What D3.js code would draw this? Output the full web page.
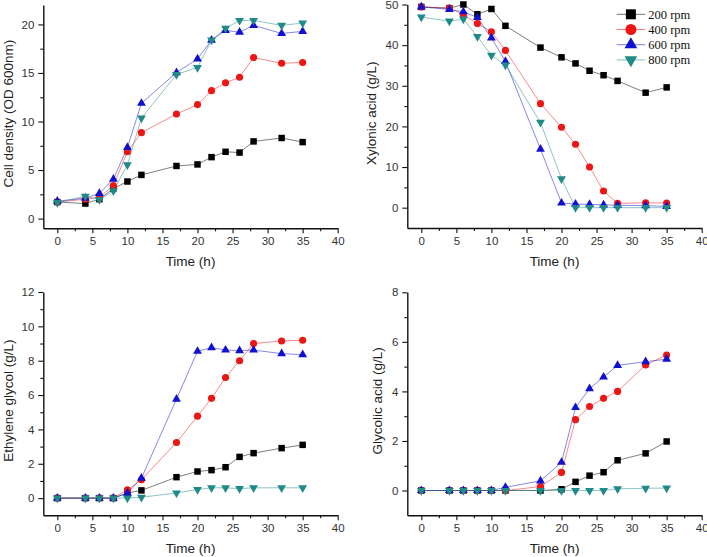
<!DOCTYPE html>
<html>
<head>
<meta charset="utf-8">
<script src="https://cdn.jsdelivr.net/npm/d3@7"></script>
<style>
body { margin: 0; background: #fff; }
svg { display: block; }
</style>
</head>
<body>
<script>

var width = 707;
var height = 557;

// sampling times (h)
var time = [0, 4, 6, 8, 10, 12, 17, 20, 22, 24, 26, 28, 32, 35];
var seriesNames = ["200 rpm", "400 rpm", "600 rpm", "800 rpm"];
var colors = ["#000000", "#ee1515", "#1010d0", "#1f8a88"];

// cell density (OD 600nm)
var od200 = [1.7, 1.55, 2.0, 3.1, 3.82, 4.5, 5.42, 5.58, 6.33, 6.88, 6.8, 7.95, 8.3, 7.88];
var od400 = [1.7, 2.0, 2.2, 3.4, 6.88, 8.85, 10.77, 11.74, 13.18, 13.98, 14.56, 16.59, 16.0, 16.08];
var od600 = [1.8, 2.1, 2.6, 4.06, 7.33, 11.88, 15.04, 16.45, 18.38, 19.38, 19.2, 19.9, 19.07, 19.28];
var od800 = [1.65, 2.3, 1.96, 2.86, 5.54, 10.36, 14.84, 15.56, 18.38, 19.59, 20.41, 20.41, 19.9, 20.14];

// xylonic acid (g/L)
var xa200 = [49.4, 49.1, 50.0, 47.6, 48.9, 44.75, 39.4, 37.0, 35.5, 33.7, 32.6, 31.2, 28.3, 29.6];
var xa400 = [49.4, 49.1, 47.5, 45.3, 43.3, 38.7, 25.6, 19.8, 15.6, 10.0, 4.1, 1.07, 1.2, 1.15];
var xa600 = [49.4, 48.8, 48.2, 46.8, 41.8, 36.0, 14.4, 1.15, 0.9, 0.8, 0.7, 0.6, 0.5, 0.3];
var xa800 = [46.9, 45.9, 46.4, 42.1, 37.5, 35.1, 21.0, 7.1, 0, 0, 0, 0, 0, 0];

// ethylene glycol (g/L)
var eg200 = [0, 0, 0, 0, 0.3, 0.45, 1.22, 1.55, 1.63, 1.8, 2.4, 2.62, 2.91, 3.1];
var eg400 = [0, 0, 0, 0, 0.48, 1.07, 3.24, 4.77, 5.81, 7.02, 8.0, 9.0, 9.15, 9.19];
var eg600 = [0, 0, 0, 0, 0.29, 1.16, 5.76, 8.55, 8.76, 8.62, 8.59, 8.62, 8.41, 8.35];
var eg800 = [0, 0, 0, 0, 0, 0.05, 0.3, 0.5, 0.6, 0.6, 0.55, 0.6, 0.6, 0.6];

// glycolic acid (g/L)
var ga200 = [0, 0, 0, 0, 0, 0, 0, 0.05, 0.35, 0.6, 0.74, 1.22, 1.5, 1.98];
var ga400 = [0, 0, 0, 0, 0, 0, 0.16, 0.73, 2.86, 3.39, 3.72, 4.0, 5.07, 5.47];
var ga600 = [0, 0, 0, 0, 0, 0.13, 0.39, 1.14, 3.35, 4.11, 4.58, 5.05, 5.2, 5.3];
var ga800 = [0, 0, 0, 0, 0, 0, 0, 0, 0, 0, 0, 0.07, 0.09, 0.1];

var xTicks = [0, 5, 10, 15, 20, 25, 30, 35, 40];

var panels = [
    {label: "Cell density (OD 600nm)", series: [od200, od400, od600, od800],
     yDomain: [-1, 22], yTicks: [0, 5, 10, 15, 20], yMinor: 2.5,
     x0: 43.3, x1: 337.7, y0: 228.3, y1: 5, labelX: 8, legend: false},
    {label: "Xylonic acid (g/L)", series: [xa200, xa400, xa600, xa800],
     yDomain: [-5, 50], yTicks: [0, 10, 20, 30, 40, 50], yMinor: 5,
     x0: 407.3, x1: 701.7, y0: 228, y1: 4.5, labelX: 371, legend: true},
    {label: "Ethylene glycol (g/L)", series: [eg200, eg400, eg600, eg800],
     yDomain: [-1, 12], yTicks: [0, 2, 4, 6, 8, 10, 12], yMinor: 1,
     x0: 43.3, x1: 337.7, y0: 515.3, y1: 292, labelX: 8, legend: false},
    {label: "Glycolic acid (g/L)", series: [ga200, ga400, ga600, ga800],
     yDomain: [-1, 8], yTicks: [0, 2, 4, 6, 8], yMinor: 1,
     x0: 407.3, x1: 701.7, y0: 515.3, y1: 292.3, labelX: 377, legend: false}
];

var svg = d3.select("body").append("svg")
    .attr("width", width)
    .attr("height", height);

function markerPath(i, size) {
    var types = [d3.symbolSquare, d3.symbolCircle, d3.symbolTriangle, d3.symbolTriangle];
    return d3.symbol().type(types[i]).size(size)();
}

function drawPanel(p) {
    var xScale = d3.scaleLinear().domain([-2, 40]).range([p.x0, p.x1]);
    var yScale = d3.scaleLinear().domain(p.yDomain).range([p.y0, p.y1]);

    var g = svg.append("g");

    // minor ticks, half way between the major ones
    var xMinor = d3.range(2.5, 40, 5);
    g.append("g")
        .attr("transform", "translate(0," + p.y0 + ")")
        .call(d3.axisBottom(xScale).tickValues(xMinor).tickSize(3).tickSizeOuter(0).tickFormat(""))
        .call(function (a) { a.select(".domain").remove(); });
    var yMinor = d3.range(p.yTicks[0] + p.yMinor, p.yDomain[1], 2 * p.yMinor);
    g.append("g")
        .attr("transform", "translate(" + p.x0 + ",0)")
        .call(d3.axisLeft(yScale).tickValues(yMinor).tickSize(3).tickSizeOuter(0).tickFormat(""))
        .call(function (a) { a.select(".domain").remove(); });

    // major axes
    g.append("g")
        .attr("transform", "translate(0," + p.y0 + ")")
        .call(d3.axisBottom(xScale).tickValues(xTicks).tickSize(5).tickSizeOuter(0).tickPadding(4));
    g.append("g")
        .attr("transform", "translate(" + p.x0 + ",0)")
        .call(d3.axisLeft(yScale).tickValues(p.yTicks).tickSize(5).tickSizeOuter(0).tickPadding(4));

    g.selectAll(".domain").attr("stroke", "#111").attr("stroke-width", 1.4);
    g.selectAll(".tick line").attr("stroke", "#111").attr("stroke-width", 1.1);
    g.selectAll(".tick text")
        .attr("font-family", "Liberation Sans, Arial, sans-serif")
        .attr("font-size", "11.5px")
        .attr("fill", "#333");

    // axis titles
    g.append("text")
        .attr("x", (p.x0 + p.x1) / 2)
        .attr("y", p.y0 + 38)
        .attr("text-anchor", "middle")
        .attr("font-family", "Liberation Sans, Arial, sans-serif")
        .attr("font-size", "13.5px")
        .attr("fill", "#222")
        .text("Time (h)");
    g.append("text")
        .attr("transform", "translate(" + p.labelX + "," + ((p.y0 + p.y1) / 2 - 3) + ") rotate(-90)")
        .attr("dy", "0.35em")
        .attr("text-anchor", "middle")
        .attr("font-family", "Liberation Sans, Arial, sans-serif")
        .attr("font-size", "13.5px")
        .attr("fill", "#222")
        .text(p.label);

    var line = d3.line()
        .x(function (d, i) { return xScale(time[i]); })
        .y(function (d) { return yScale(d); });

    p.series.forEach(function (s, k) {
        g.append("path")
            .datum(s)
            .attr("d", line)
            .attr("fill", "none")
            .attr("stroke", colors[k])
            .attr("stroke-opacity", 0.5)
            .attr("stroke-width", 1);
    });

    p.series.forEach(function (s, k) {
        var size = [42, 40, 34, 34][k];
        g.selectAll(".m" + k)
            .data(s)
            .enter()
            .append("path")
            .attr("class", "m" + k)
            .attr("d", markerPath(k, size))
            .attr("fill", colors[k])
            .attr("transform", function (d, i) {
                return "translate(" + xScale(time[i]) + "," + yScale(d) + ")" + (k == 3 ? " rotate(180)" : "");
            });
    });

    if (p.legend) {
        var leg = svg.append("g").attr("transform", "translate(616.7,14.3)");
        seriesNames.forEach(function (name, k) {
            var row = leg.append("g").attr("transform", "translate(0," + (k * 15.2) + ")");
            row.append("line")
                .attr("x1", 0).attr("x2", 28.5)
                .attr("stroke", colors[k]).attr("stroke-opacity", 0.55).attr("stroke-width", 1);
            row.append("path")
                .attr("d", markerPath(k, [100, 95, 70, 70][k]))
                .attr("fill", colors[k])
                .attr("transform", "translate(14.2,0)" + (k == 3 ? " rotate(180)" : ""));
            row.append("text")
                .attr("x", 31.6)
                .attr("dy", "0.35em")
                .attr("font-family", "Liberation Serif, Times New Roman, serif")
                .attr("font-size", "12.5px")
                .attr("fill", "#111")
                .text(name);
        });
    }
}

panels.forEach(drawPanel);

</script>
</body>
</html>
